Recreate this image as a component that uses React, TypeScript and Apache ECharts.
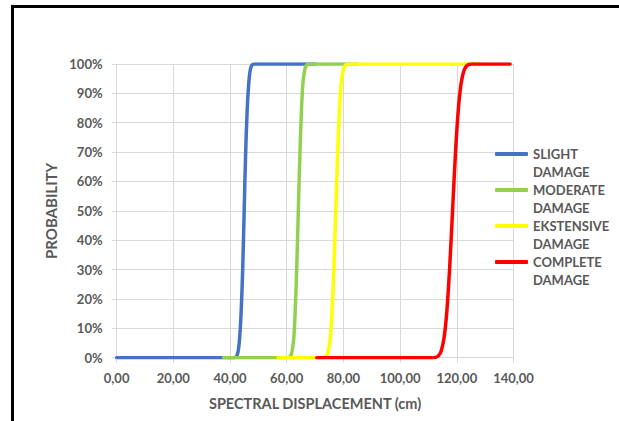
import React, { useEffect, useRef } from "react";
import * as echarts from "echarts";

const seriesNames = ["SLIGHT DAMAGE", "MODERATE DAMAGE", "EKSTENSIVE DAMAGE", "COMPLETE DAMAGE"];
const seriesColors = ["#4472C4", "#92D050", "#FFFF00", "#FF0000"];

const slight: [number, number][] = [
  [0, 0], [41.3, 0], [41.85, 0.1], [42.4, 0.6], [42.9, 2.3], [43.4, 6.7], [43.95, 15.9],
  [44.5, 30.9], [45, 50], [45.5, 69.1], [46.05, 84.1], [46.6, 93.3], [47.1, 97.7],
  [47.6, 99.4], [48.15, 99.9], [48.7, 100], [70, 100],
];
const moderate: [number, number][] = [
  [37.7, 0], [60.2, 0], [60.8, 0.1], [61.4, 0.6], [61.9, 2.3], [62.5, 6.7], [63.0, 15.9],
  [63.55, 30.9], [64.1, 50], [64.65, 69.1], [65.2, 84.1], [65.7, 93.3], [66.3, 97.7],
  [66.8, 99.4], [67.4, 99.9], [68, 100], [85, 100],
];
const ekstensive: [number, number][] = [
  [57, 0], [72.8, 0], [73.4, 0.1], [74.1, 0.6], [74.7, 2.3], [75.4, 6.7], [76.0, 15.9],
  [76.65, 30.9], [77.3, 50], [77.95, 69.1], [78.6, 84.1], [79.2, 93.3], [79.9, 97.7],
  [80.5, 99.4], [81.2, 99.9], [82, 100], [128, 100],
];
const complete: [number, number][] = [
  [70.6, 0], [111.5, 0], [112.5, 0.1], [113.5, 0.6], [114.5, 2.3], [115.5, 6.7], [116.5, 15.9],
  [117.5, 30.9], [118.5, 50], [119.5, 69.1], [120.5, 84.1], [121.5, 93.3], [122.5, 97.7],
  [123.5, 99.4], [124.5, 99.9], [125.5, 100], [138.8, 100],
];
const seriesData = [slight, moderate, ekstensive, complete];

const xMin = 0, xMax = 140, xStep = 20;
const yMin = 0, yMax = 100, yStep = 10;
const xTitle = "SPECTRAL DISPLACEMENT (cm)";
const yTitle = "PROBABILITY";

const FONT = "Lato";
const TXT = "#595959";
const GRID = "#D9D9D9";

export default function App() {
  const ref = useRef<HTMLDivElement>(null);
  useEffect(() => {
    const chart = echarts.init(ref.current!, undefined, { renderer: "svg" });
    chart.setOption({
      animation: false,
      backgroundColor: "#ffffff",
      grid: { left: 116.6, right: 105.5, top: 64, bottom: 63.3, containLabel: false },
      graphic: [
        { type: "line", shape: { x1: 11, y1: 6.5, x2: 619, y2: 6.5 }, style: { stroke: "#000", lineWidth: 3 } },
        { type: "line", shape: { x1: 12.5, y1: 5, x2: 12.5, y2: 421 }, style: { stroke: "#000", lineWidth: 3 } },
      ],
      legend: {
        orient: "vertical",
        left: 495,
        top: 127,
        padding: 0,
        itemGap: -18,
        itemWidth: 33,
        itemHeight: 4,
        icon: "roundRect",
        data: seriesNames,
        formatter: (n: string) => " \n" + n.replace(" ", "\n"),
        textStyle: {
          color: TXT,
          fontFamily: FONT,
          fontWeight: "bold",
          fontSize: 13,
          lineHeight: 18,
        },
      },
      xAxis: {
        type: "value",
        min: xMin,
        max: xMax,
        interval: xStep,
        name: xTitle,
        nameLocation: "middle",
        nameGap: 38,
        nameTextStyle: { color: TXT, fontFamily: FONT, fontWeight: "bold", fontSize: 14.5 },
        axisLine: { show: true, lineStyle: { color: GRID, width: 1 } },
        axisTick: { show: true, length: 5, lineStyle: { color: GRID } },
        axisLabel: {
          color: TXT,
          fontFamily: FONT,
          fontWeight: "bold",
          fontSize: 13,
          margin: 14,
          formatter: (v: number) => v.toFixed(2).replace(".", ","),
        },
        splitLine: { show: true, lineStyle: { color: GRID, width: 1 } },
      },
      yAxis: {
        type: "value",
        min: yMin,
        max: yMax,
        interval: yStep,
        name: yTitle,
        nameLocation: "middle",
        nameRotate: 90,
        nameGap: 54,
        nameTextStyle: { color: TXT, fontFamily: FONT, fontWeight: "bold", fontSize: 15 },
        axisLine: { show: true, lineStyle: { color: GRID, width: 1 } },
        axisTick: { show: true, length: 5, lineStyle: { color: GRID } },
        axisLabel: {
          color: TXT,
          fontFamily: FONT,
          fontWeight: "bold",
          fontSize: 13,
          margin: 14,
          formatter: "{value}%",
        },
        splitLine: { show: true, lineStyle: { color: GRID, width: 1 } },
      },
      series: seriesNames.map((name, i) => ({
        name,
        type: "line",
        data: seriesData[i],
        showSymbol: false,
        symbol: "none",
        smooth: 0.3,
        color: seriesColors[i],
        lineStyle: { color: seriesColors[i], width: 3.5, join: "round", cap: "round" },
        z: 2 + i,
      })),
    });
    return () => chart.dispose();
  }, []);
  return (
    <div style={{ position: "fixed", left: 0, top: 0, width: 619, height: 421, background: "#fff" }}>
      <div ref={ref} style={{ width: 619, height: 421 }} />
    </div>
  );
}
